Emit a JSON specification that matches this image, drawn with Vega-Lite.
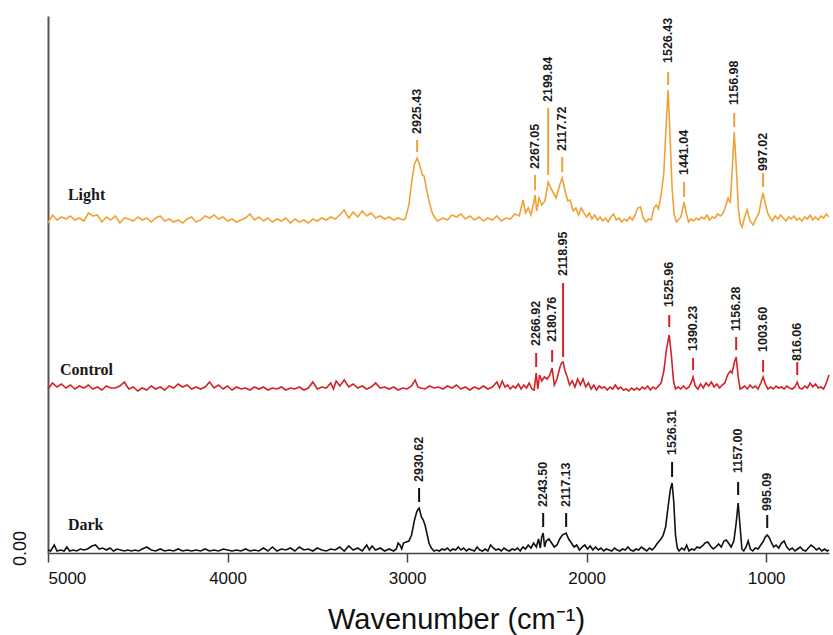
{
  "$schema": "https://vega.github.io/schema/vega-lite/v6.json",
  "width": 781,
  "height": 537,
  "autosize": {"type": "none"},
  "padding": {"left": 48, "top": 16, "right": 4, "bottom": 82},
  "background": "white",
  "config": {"view": {"stroke": null}},
  "datasets": {
    "light": [
      {"x":5000,"y":3.30},{"x":4975,"y":3.38},{"x":4950,"y":3.33},{"x":4925,"y":3.36},{"x":4900,"y":3.34},{"x":4875,"y":3.37},{"x":4850,"y":3.33},{"x":4825,"y":3.35},{"x":4800,"y":3.32},{"x":4775,"y":3.40},{"x":4750,"y":3.37},{"x":4725,"y":3.38},{"x":4700,"y":3.31},{"x":4675,"y":3.36},{"x":4650,"y":3.33},{"x":4625,"y":3.37},{"x":4600,"y":3.30},{"x":4575,"y":3.35},{"x":4550,"y":3.34},{"x":4525,"y":3.32},{"x":4500,"y":3.36},{"x":4475,"y":3.33},{"x":4450,"y":3.35},{"x":4425,"y":3.31},{"x":4400,"y":3.35},{"x":4375,"y":3.37},{"x":4350,"y":3.32},{"x":4325,"y":3.34},{"x":4300,"y":3.31},{"x":4275,"y":3.33},{"x":4250,"y":3.30},{"x":4225,"y":3.34},{"x":4200,"y":3.36},{"x":4175,"y":3.31},{"x":4150,"y":3.33},{"x":4125,"y":3.37},{"x":4100,"y":3.35},{"x":4075,"y":3.38},{"x":4050,"y":3.34},{"x":4025,"y":3.36},{"x":4000,"y":3.32},{"x":3975,"y":3.34},{"x":3950,"y":3.31},{"x":3925,"y":3.33},{"x":3900,"y":3.35},{"x":3875,"y":3.39},{"x":3850,"y":3.33},{"x":3825,"y":3.36},{"x":3800,"y":3.32},{"x":3775,"y":3.35},{"x":3750,"y":3.31},{"x":3725,"y":3.34},{"x":3700,"y":3.32},{"x":3675,"y":3.35},{"x":3650,"y":3.30},{"x":3625,"y":3.34},{"x":3600,"y":3.31},{"x":3575,"y":3.33},{"x":3550,"y":3.30},{"x":3525,"y":3.34},{"x":3500,"y":3.32},{"x":3475,"y":3.35},{"x":3450,"y":3.33},{"x":3425,"y":3.36},{"x":3400,"y":3.34},{"x":3375,"y":3.38},{"x":3350,"y":3.43},{"x":3325,"y":3.35},{"x":3300,"y":3.41},{"x":3275,"y":3.36},{"x":3250,"y":3.42},{"x":3225,"y":3.37},{"x":3200,"y":3.40},{"x":3175,"y":3.35},{"x":3150,"y":3.37},{"x":3125,"y":3.34},{"x":3100,"y":3.36},{"x":3075,"y":3.33},{"x":3050,"y":3.35},{"x":3025,"y":3.33},{"x":3010,"y":3.34},{"x":2990,"y":3.48},{"x":2975,"y":3.70},{"x":2960,"y":3.88},{"x":2944,"y":3.95},{"x":2930,"y":3.88},{"x":2915,"y":3.78},{"x":2905,"y":3.77},{"x":2890,"y":3.62},{"x":2875,"y":3.50},{"x":2860,"y":3.40},{"x":2845,"y":3.35},{"x":2830,"y":3.32},{"x":2800,"y":3.35},{"x":2775,"y":3.33},{"x":2750,"y":3.38},{"x":2725,"y":3.36},{"x":2700,"y":3.39},{"x":2675,"y":3.34},{"x":2650,"y":3.37},{"x":2625,"y":3.33},{"x":2600,"y":3.36},{"x":2575,"y":3.32},{"x":2550,"y":3.35},{"x":2525,"y":3.33},{"x":2500,"y":3.37},{"x":2475,"y":3.32},{"x":2450,"y":3.35},{"x":2425,"y":3.34},{"x":2400,"y":3.39},{"x":2375,"y":3.37},{"x":2354,"y":3.53},{"x":2340,"y":3.40},{"x":2325,"y":3.45},{"x":2310,"y":3.38},{"x":2295,"y":3.50},{"x":2287,"y":3.58},{"x":2278,"y":3.42},{"x":2265,"y":3.55},{"x":2250,"y":3.48},{"x":2232,"y":3.52},{"x":2214,"y":3.71},{"x":2200,"y":3.65},{"x":2185,"y":3.60},{"x":2170,"y":3.55},{"x":2150,"y":3.68},{"x":2136,"y":3.75},{"x":2120,"y":3.62},{"x":2105,"y":3.52},{"x":2092,"y":3.53},{"x":2075,"y":3.42},{"x":2060,"y":3.45},{"x":2045,"y":3.38},{"x":2030,"y":3.45},{"x":2015,"y":3.40},{"x":2000,"y":3.36},{"x":1985,"y":3.40},{"x":1970,"y":3.34},{"x":1955,"y":3.38},{"x":1940,"y":3.33},{"x":1925,"y":3.36},{"x":1910,"y":3.32},{"x":1895,"y":3.35},{"x":1880,"y":3.31},{"x":1865,"y":3.36},{"x":1850,"y":3.39},{"x":1835,"y":3.33},{"x":1820,"y":3.35},{"x":1805,"y":3.31},{"x":1790,"y":3.34},{"x":1775,"y":3.32},{"x":1760,"y":3.36},{"x":1745,"y":3.33},{"x":1730,"y":3.38},{"x":1715,"y":3.45},{"x":1700,"y":3.46},{"x":1685,"y":3.35},{"x":1670,"y":3.31},{"x":1655,"y":3.34},{"x":1640,"y":3.33},{"x":1625,"y":3.45},{"x":1612,"y":3.48},{"x":1600,"y":3.44},{"x":1585,"y":3.58},{"x":1570,"y":3.80},{"x":1558,"y":4.25},{"x":1546,"y":4.63},{"x":1535,"y":4.15},{"x":1524,"y":3.65},{"x":1512,"y":3.38},{"x":1500,"y":3.31},{"x":1490,"y":3.33},{"x":1475,"y":3.36},{"x":1457,"y":3.51},{"x":1445,"y":3.40},{"x":1432,"y":3.31},{"x":1420,"y":3.34},{"x":1405,"y":3.32},{"x":1390,"y":3.35},{"x":1375,"y":3.33},{"x":1360,"y":3.36},{"x":1345,"y":3.34},{"x":1330,"y":3.38},{"x":1315,"y":3.33},{"x":1300,"y":3.36},{"x":1285,"y":3.35},{"x":1270,"y":3.39},{"x":1255,"y":3.37},{"x":1240,"y":3.40},{"x":1225,"y":3.47},{"x":1212,"y":3.55},{"x":1200,"y":3.50},{"x":1190,"y":3.80},{"x":1178,"y":4.21},{"x":1166,"y":3.85},{"x":1155,"y":3.45},{"x":1145,"y":3.30},{"x":1134,"y":3.26},{"x":1120,"y":3.36},{"x":1106,"y":3.43},{"x":1090,"y":3.32},{"x":1072,"y":3.28},{"x":1058,"y":3.34},{"x":1040,"y":3.40},{"x":1028,"y":3.52},{"x":1017,"y":3.60},{"x":1005,"y":3.50},{"x":992,"y":3.40},{"x":980,"y":3.36},{"x":965,"y":3.32},{"x":950,"y":3.37},{"x":935,"y":3.34},{"x":920,"y":3.38},{"x":905,"y":3.35},{"x":890,"y":3.32},{"x":875,"y":3.36},{"x":860,"y":3.34},{"x":845,"y":3.37},{"x":830,"y":3.33},{"x":815,"y":3.35},{"x":800,"y":3.32},{"x":785,"y":3.36},{"x":770,"y":3.34},{"x":755,"y":3.38},{"x":740,"y":3.33},{"x":725,"y":3.36},{"x":710,"y":3.33},{"x":695,"y":3.37},{"x":680,"y":3.35},{"x":665,"y":3.39},{"x":650,"y":3.36}
    ],
    "control": [
      {"x":5000,"y":1.64},{"x":4975,"y":1.70},{"x":4950,"y":1.66},{"x":4925,"y":1.69},{"x":4900,"y":1.65},{"x":4875,"y":1.68},{"x":4850,"y":1.64},{"x":4825,"y":1.67},{"x":4800,"y":1.65},{"x":4775,"y":1.68},{"x":4750,"y":1.64},{"x":4725,"y":1.66},{"x":4700,"y":1.63},{"x":4675,"y":1.67},{"x":4650,"y":1.65},{"x":4625,"y":1.65},{"x":4600,"y":1.67},{"x":4575,"y":1.71},{"x":4550,"y":1.64},{"x":4525,"y":1.66},{"x":4500,"y":1.62},{"x":4475,"y":1.65},{"x":4450,"y":1.63},{"x":4425,"y":1.67},{"x":4400,"y":1.64},{"x":4375,"y":1.66},{"x":4350,"y":1.63},{"x":4325,"y":1.67},{"x":4300,"y":1.65},{"x":4275,"y":1.69},{"x":4250,"y":1.66},{"x":4225,"y":1.68},{"x":4200,"y":1.64},{"x":4175,"y":1.66},{"x":4150,"y":1.64},{"x":4125,"y":1.66},{"x":4100,"y":1.71},{"x":4075,"y":1.65},{"x":4050,"y":1.68},{"x":4025,"y":1.64},{"x":4000,"y":1.67},{"x":3975,"y":1.63},{"x":3950,"y":1.66},{"x":3925,"y":1.64},{"x":3900,"y":1.65},{"x":3875,"y":1.63},{"x":3850,"y":1.66},{"x":3825,"y":1.64},{"x":3800,"y":1.66},{"x":3775,"y":1.63},{"x":3750,"y":1.65},{"x":3725,"y":1.64},{"x":3700,"y":1.66},{"x":3675,"y":1.63},{"x":3650,"y":1.65},{"x":3625,"y":1.64},{"x":3600,"y":1.66},{"x":3575,"y":1.63},{"x":3550,"y":1.65},{"x":3525,"y":1.71},{"x":3500,"y":1.64},{"x":3475,"y":1.66},{"x":3450,"y":1.65},{"x":3425,"y":1.70},{"x":3410,"y":1.64},{"x":3395,"y":1.72},{"x":3375,"y":1.67},{"x":3350,"y":1.73},{"x":3325,"y":1.66},{"x":3300,"y":1.69},{"x":3275,"y":1.65},{"x":3250,"y":1.67},{"x":3225,"y":1.64},{"x":3200,"y":1.66},{"x":3175,"y":1.70},{"x":3150,"y":1.65},{"x":3125,"y":1.66},{"x":3100,"y":1.64},{"x":3075,"y":1.66},{"x":3050,"y":1.63},{"x":3025,"y":1.65},{"x":3000,"y":1.64},{"x":2975,"y":1.67},{"x":2955,"y":1.73},{"x":2940,"y":1.66},{"x":2925,"y":1.65},{"x":2900,"y":1.64},{"x":2875,"y":1.67},{"x":2850,"y":1.65},{"x":2825,"y":1.66},{"x":2800,"y":1.64},{"x":2775,"y":1.67},{"x":2750,"y":1.65},{"x":2725,"y":1.68},{"x":2700,"y":1.64},{"x":2675,"y":1.66},{"x":2650,"y":1.63},{"x":2625,"y":1.66},{"x":2600,"y":1.64},{"x":2575,"y":1.67},{"x":2550,"y":1.64},{"x":2525,"y":1.66},{"x":2500,"y":1.71},{"x":2485,"y":1.65},{"x":2470,"y":1.72},{"x":2455,"y":1.66},{"x":2440,"y":1.68},{"x":2425,"y":1.64},{"x":2410,"y":1.67},{"x":2395,"y":1.65},{"x":2380,"y":1.69},{"x":2365,"y":1.64},{"x":2350,"y":1.68},{"x":2335,"y":1.65},{"x":2320,"y":1.70},{"x":2305,"y":1.64},{"x":2292,"y":1.63},{"x":2281,"y":1.80},{"x":2272,"y":1.64},{"x":2262,"y":1.78},{"x":2250,"y":1.72},{"x":2235,"y":1.76},{"x":2220,"y":1.74},{"x":2205,"y":1.78},{"x":2192,"y":1.85},{"x":2180,"y":1.68},{"x":2165,"y":1.74},{"x":2150,"y":1.85},{"x":2140,"y":1.90},{"x":2131,"y":1.91},{"x":2120,"y":1.82},{"x":2108,"y":1.76},{"x":2095,"y":1.68},{"x":2080,"y":1.72},{"x":2065,"y":1.66},{"x":2050,"y":1.74},{"x":2035,"y":1.68},{"x":2020,"y":1.74},{"x":2005,"y":1.66},{"x":1990,"y":1.70},{"x":1975,"y":1.64},{"x":1960,"y":1.68},{"x":1945,"y":1.63},{"x":1930,"y":1.67},{"x":1915,"y":1.65},{"x":1900,"y":1.66},{"x":1885,"y":1.63},{"x":1870,"y":1.66},{"x":1855,"y":1.64},{"x":1840,"y":1.68},{"x":1825,"y":1.64},{"x":1810,"y":1.66},{"x":1795,"y":1.63},{"x":1780,"y":1.64},{"x":1765,"y":1.62},{"x":1750,"y":1.65},{"x":1735,"y":1.63},{"x":1720,"y":1.65},{"x":1705,"y":1.63},{"x":1690,"y":1.66},{"x":1675,"y":1.64},{"x":1660,"y":1.67},{"x":1645,"y":1.63},{"x":1630,"y":1.66},{"x":1615,"y":1.64},{"x":1600,"y":1.67},{"x":1585,"y":1.70},{"x":1570,"y":1.82},{"x":1555,"y":2.04},{"x":1540,"y":2.18},{"x":1528,"y":1.98},{"x":1516,"y":1.72},{"x":1505,"y":1.64},{"x":1490,"y":1.66},{"x":1475,"y":1.64},{"x":1460,"y":1.67},{"x":1445,"y":1.64},{"x":1430,"y":1.66},{"x":1418,"y":1.70},{"x":1407,"y":1.76},{"x":1395,"y":1.67},{"x":1380,"y":1.64},{"x":1365,"y":1.69},{"x":1350,"y":1.65},{"x":1335,"y":1.70},{"x":1320,"y":1.67},{"x":1305,"y":1.71},{"x":1290,"y":1.66},{"x":1275,"y":1.69},{"x":1260,"y":1.65},{"x":1245,"y":1.68},{"x":1230,"y":1.70},{"x":1215,"y":1.78},{"x":1200,"y":1.82},{"x":1190,"y":1.80},{"x":1178,"y":1.90},{"x":1167,"y":1.96},{"x":1155,"y":1.75},{"x":1145,"y":1.64},{"x":1134,"y":1.65},{"x":1120,"y":1.67},{"x":1105,"y":1.64},{"x":1090,"y":1.68},{"x":1075,"y":1.65},{"x":1060,"y":1.67},{"x":1045,"y":1.64},{"x":1030,"y":1.70},{"x":1017,"y":1.76},{"x":1005,"y":1.69},{"x":990,"y":1.64},{"x":975,"y":1.66},{"x":960,"y":1.64},{"x":945,"y":1.67},{"x":930,"y":1.65},{"x":915,"y":1.66},{"x":900,"y":1.64},{"x":885,"y":1.67},{"x":870,"y":1.65},{"x":855,"y":1.64},{"x":840,"y":1.66},{"x":827,"y":1.71},{"x":815,"y":1.65},{"x":800,"y":1.64},{"x":785,"y":1.67},{"x":770,"y":1.65},{"x":755,"y":1.70},{"x":740,"y":1.66},{"x":725,"y":1.69},{"x":710,"y":1.65},{"x":695,"y":1.66},{"x":680,"y":1.64},{"x":665,"y":1.70},{"x":650,"y":1.78}
    ],
    "dark": [
      {"x":5000,"y":0.03},{"x":4985,"y":0.02},{"x":4965,"y":0.08},{"x":4950,"y":0.02},{"x":4930,"y":0.03},{"x":4910,"y":0.02},{"x":4895,"y":0.06},{"x":4880,"y":0.02},{"x":4860,"y":0.03},{"x":4840,"y":0.02},{"x":4820,"y":0.04},{"x":4800,"y":0.03},{"x":4780,"y":0.04},{"x":4755,"y":0.07},{"x":4735,"y":0.08},{"x":4715,"y":0.04},{"x":4695,"y":0.05},{"x":4675,"y":0.03},{"x":4655,"y":0.05},{"x":4635,"y":0.02},{"x":4615,"y":0.04},{"x":4595,"y":0.03},{"x":4575,"y":0.02},{"x":4555,"y":0.03},{"x":4535,"y":0.02},{"x":4515,"y":0.03},{"x":4495,"y":0.02},{"x":4475,"y":0.04},{"x":4450,"y":0.06},{"x":4425,"y":0.03},{"x":4400,"y":0.02},{"x":4375,"y":0.04},{"x":4350,"y":0.02},{"x":4325,"y":0.03},{"x":4300,"y":0.02},{"x":4275,"y":0.04},{"x":4250,"y":0.02},{"x":4225,"y":0.03},{"x":4200,"y":0.02},{"x":4175,"y":0.03},{"x":4150,"y":0.02},{"x":4125,"y":0.04},{"x":4100,"y":0.02},{"x":4075,"y":0.03},{"x":4050,"y":0.02},{"x":4025,"y":0.04},{"x":4000,"y":0.03},{"x":3975,"y":0.02},{"x":3950,"y":0.03},{"x":3925,"y":0.02},{"x":3900,"y":0.04},{"x":3875,"y":0.02},{"x":3850,"y":0.03},{"x":3825,"y":0.02},{"x":3800,"y":0.05},{"x":3775,"y":0.02},{"x":3750,"y":0.06},{"x":3725,"y":0.02},{"x":3700,"y":0.04},{"x":3675,"y":0.03},{"x":3650,"y":0.05},{"x":3625,"y":0.02},{"x":3600,"y":0.06},{"x":3575,"y":0.03},{"x":3550,"y":0.04},{"x":3525,"y":0.02},{"x":3500,"y":0.05},{"x":3475,"y":0.03},{"x":3450,"y":0.02},{"x":3425,"y":0.04},{"x":3400,"y":0.03},{"x":3375,"y":0.06},{"x":3350,"y":0.02},{"x":3325,"y":0.07},{"x":3300,"y":0.03},{"x":3275,"y":0.05},{"x":3250,"y":0.02},{"x":3225,"y":0.08},{"x":3210,"y":0.03},{"x":3195,"y":0.07},{"x":3175,"y":0.03},{"x":3150,"y":0.05},{"x":3125,"y":0.02},{"x":3100,"y":0.04},{"x":3075,"y":0.02},{"x":3060,"y":0.04},{"x":3050,"y":0.10},{"x":3040,"y":0.08},{"x":3030,"y":0.04},{"x":3020,"y":0.10},{"x":3005,"y":0.11},{"x":2990,"y":0.12},{"x":2975,"y":0.18},{"x":2960,"y":0.32},{"x":2945,"y":0.42},{"x":2933,"y":0.45},{"x":2920,"y":0.36},{"x":2910,"y":0.33},{"x":2900,"y":0.28},{"x":2890,"y":0.20},{"x":2878,"y":0.10},{"x":2865,"y":0.05},{"x":2850,"y":0.02},{"x":2835,"y":0.03},{"x":2820,"y":0.02},{"x":2805,"y":0.04},{"x":2790,"y":0.03},{"x":2775,"y":0.05},{"x":2760,"y":0.02},{"x":2745,"y":0.04},{"x":2730,"y":0.03},{"x":2715,"y":0.06},{"x":2700,"y":0.03},{"x":2685,"y":0.05},{"x":2670,"y":0.02},{"x":2655,"y":0.04},{"x":2640,"y":0.03},{"x":2625,"y":0.02},{"x":2610,"y":0.06},{"x":2595,"y":0.03},{"x":2580,"y":0.02},{"x":2565,"y":0.04},{"x":2550,"y":0.02},{"x":2535,"y":0.08},{"x":2520,"y":0.05},{"x":2505,"y":0.03},{"x":2490,"y":0.04},{"x":2475,"y":0.02},{"x":2460,"y":0.05},{"x":2445,"y":0.03},{"x":2430,"y":0.02},{"x":2415,"y":0.04},{"x":2400,"y":0.03},{"x":2385,"y":0.05},{"x":2370,"y":0.02},{"x":2355,"y":0.06},{"x":2340,"y":0.04},{"x":2325,"y":0.08},{"x":2310,"y":0.05},{"x":2295,"y":0.10},{"x":2280,"y":0.06},{"x":2268,"y":0.14},{"x":2258,"y":0.05},{"x":2250,"y":0.16},{"x":2242,"y":0.20},{"x":2234,"y":0.06},{"x":2225,"y":0.12},{"x":2210,"y":0.14},{"x":2195,"y":0.10},{"x":2180,"y":0.06},{"x":2165,"y":0.08},{"x":2150,"y":0.14},{"x":2135,"y":0.18},{"x":2114,"y":0.20},{"x":2100,"y":0.14},{"x":2085,"y":0.10},{"x":2070,"y":0.06},{"x":2055,"y":0.08},{"x":2040,"y":0.03},{"x":2025,"y":0.06},{"x":2010,"y":0.08},{"x":1995,"y":0.04},{"x":1980,"y":0.07},{"x":1965,"y":0.03},{"x":1950,"y":0.06},{"x":1935,"y":0.03},{"x":1920,"y":0.05},{"x":1905,"y":0.02},{"x":1890,"y":0.04},{"x":1875,"y":0.03},{"x":1860,"y":0.02},{"x":1845,"y":0.05},{"x":1830,"y":0.03},{"x":1815,"y":0.02},{"x":1800,"y":0.04},{"x":1785,"y":0.03},{"x":1770,"y":0.06},{"x":1755,"y":0.03},{"x":1740,"y":0.02},{"x":1725,"y":0.04},{"x":1710,"y":0.03},{"x":1695,"y":0.06},{"x":1680,"y":0.04},{"x":1665,"y":0.02},{"x":1650,"y":0.05},{"x":1635,"y":0.03},{"x":1620,"y":0.06},{"x":1605,"y":0.10},{"x":1590,"y":0.13},{"x":1575,"y":0.17},{"x":1560,"y":0.26},{"x":1545,"y":0.48},{"x":1533,"y":0.64},{"x":1524,"y":0.70},{"x":1515,"y":0.52},{"x":1505,"y":0.18},{"x":1495,"y":0.05},{"x":1485,"y":0.02},{"x":1470,"y":0.05},{"x":1455,"y":0.03},{"x":1443,"y":0.08},{"x":1430,"y":0.02},{"x":1415,"y":0.04},{"x":1400,"y":0.03},{"x":1385,"y":0.06},{"x":1370,"y":0.05},{"x":1355,"y":0.07},{"x":1340,"y":0.10},{"x":1325,"y":0.11},{"x":1310,"y":0.07},{"x":1295,"y":0.04},{"x":1280,"y":0.06},{"x":1265,"y":0.09},{"x":1250,"y":0.06},{"x":1235,"y":0.12},{"x":1222,"y":0.13},{"x":1210,"y":0.10},{"x":1195,"y":0.06},{"x":1180,"y":0.12},{"x":1167,"y":0.30},{"x":1156,"y":0.50},{"x":1146,"y":0.28},{"x":1135,"y":0.04},{"x":1125,"y":0.02},{"x":1112,"y":0.06},{"x":1100,"y":0.12},{"x":1088,"y":0.04},{"x":1075,"y":0.02},{"x":1060,"y":0.05},{"x":1045,"y":0.04},{"x":1030,"y":0.08},{"x":1015,"y":0.12},{"x":1005,"y":0.16},{"x":994,"y":0.18},{"x":982,"y":0.15},{"x":970,"y":0.10},{"x":958,"y":0.06},{"x":945,"y":0.08},{"x":930,"y":0.05},{"x":915,"y":0.10},{"x":900,"y":0.12},{"x":885,"y":0.06},{"x":870,"y":0.03},{"x":855,"y":0.05},{"x":840,"y":0.02},{"x":825,"y":0.04},{"x":810,"y":0.06},{"x":795,"y":0.03},{"x":780,"y":0.02},{"x":765,"y":0.05},{"x":750,"y":0.08},{"x":735,"y":0.06},{"x":720,"y":0.03},{"x":705,"y":0.05},{"x":690,"y":0.02},{"x":675,"y":0.04},{"x":660,"y":0.02},{"x":650,"y":0.03}
    ],
    "ann": [
      {"s":"Light","label":"2925.43","pos":2944,"y1":4.01,"y2":4.13,"yt":4.19},
      {"s":"Light","label":"2267.05","pos":2287,"y1":3.63,"y2":3.78,"yt":3.84},
      {"s":"Light","label":"2199.84","pos":2214,"y1":3.78,"y2":4.45,"yt":4.51},
      {"s":"Light","label":"2117.72","pos":2136,"y1":3.81,"y2":3.96,"yt":4.02},
      {"s":"Light","label":"1526.43","pos":1546,"y1":4.68,"y2":4.81,"yt":4.90},
      {"s":"Light","label":"1441.04","pos":1457,"y1":3.56,"y2":3.71,"yt":3.78},
      {"s":"Light","label":"1156.98","pos":1178,"y1":4.26,"y2":4.40,"yt":4.48},
      {"s":"Light","label":"997.02","pos":1017,"y1":3.66,"y2":3.80,"yt":3.82},
      {"s":"Control","label":"2266.92","pos":2281,"y1":1.86,"y2":2.00,"yt":2.07},
      {"s":"Control","label":"2180.76","pos":2192,"y1":1.91,"y2":2.03,"yt":2.11},
      {"s":"Control","label":"2118.95","pos":2131,"y1":1.96,"y2":2.70,"yt":2.77},
      {"s":"Control","label":"1525.96","pos":1540,"y1":2.26,"y2":2.38,"yt":2.46},
      {"s":"Control","label":"1390.23","pos":1407,"y1":1.83,"y2":1.95,"yt":2.02},
      {"s":"Control","label":"1156.28","pos":1167,"y1":2.03,"y2":2.16,"yt":2.22},
      {"s":"Control","label":"1003.60","pos":1017,"y1":1.81,"y2":1.93,"yt":2.01},
      {"s":"Control","label":"816.06","pos":827,"y1":1.78,"y2":1.91,"yt":1.92},
      {"s":"Dark","label":"2930.62","pos":2933,"y1":0.51,"y2":0.65,"yt":0.71},
      {"s":"Dark","label":"2243.50","pos":2242,"y1":0.26,"y2":0.40,"yt":0.46},
      {"s":"Dark","label":"2117.13","pos":2114,"y1":0.26,"y2":0.40,"yt":0.46},
      {"s":"Dark","label":"1526.31","pos":1524,"y1":0.76,"y2":0.91,"yt":0.98},
      {"s":"Dark","label":"1157.00","pos":1156,"y1":0.58,"y2":0.71,"yt":0.80},
      {"s":"Dark","label":"995.09","pos":994,"y1":0.25,"y2":0.38,"yt":0.42}
    ],
    "names": [
      {"name":"Light","x":4889,"y":3.58},
      {"name":"Control","x":4933,"y":1.83},
      {"name":"Dark","x":4889,"y":0.28}
    ]
  },
  "encoding": {
    "x": {
      "field": "x", "type": "quantitative",
      "scale": {"domain": [650, 5000], "reverse": true, "nice": false, "zero": false},
      "axis": {
        "values": [5000, 4000, 3000, 2000, 1000], "format": "d", "grid": false,
        "labelFont": "Liberation Sans", "labelFontSize": 17, "labelColor": "#111",
        "labelPadding": 8, "tickSize": 9, "tickWidth": 1.5, "tickColor": "#444",
        "domainColor": "#444", "domainWidth": 1.5,
        "title": "Wavenumber (cm⁻¹)", "titleFont": "Liberation Sans", "titleFontSize": 29,
        "titleFontWeight": "normal", "titleColor": "#111", "titleX": 408, "titleY": 75,
        "titleAlign": "center", "titleBaseline": "alphabetic"
      }
    },
    "y": {
      "field": "y", "type": "quantitative",
      "scale": {"domain": [0, 5.37], "nice": false, "zero": false},
      "axis": {
        "values": [0], "format": ".2f", "grid": false, "ticks": false, "tickSize": 0,
        "labelAngle": -90, "labelAlign": "center", "labelBaseline": "bottom",
        "labelOffset": -5, "labelPadding": 19,
        "labelFont": "Liberation Sans", "labelFontSize": 18, "labelColor": "#111",
        "domainColor": "#555", "domainWidth": 2, "title": null
      }
    }
  },
  "layer": [
    {"data": {"name": "light"}, "mark": {"type": "line", "color": "#F0A238", "strokeWidth": 1.6}},
    {"data": {"name": "control"}, "mark": {"type": "line", "color": "#D42128", "strokeWidth": 1.6}},
    {"data": {"name": "dark"}, "mark": {"type": "line", "color": "#111111", "strokeWidth": 1.6}},
    {
      "data": {"name": "ann"},
      "mark": {"type": "rule", "strokeWidth": 2},
      "encoding": {
        "x": {"field": "pos", "type": "quantitative"},
        "y": {"field": "y1", "type": "quantitative"},
        "y2": {"field": "y2"},
        "color": {"field": "s", "type": "nominal", "scale": {"domain": ["Light", "Control", "Dark"], "range": ["#F0A238", "#D42128", "#111111"]}, "legend": null}
      }
    },
    {
      "data": {"name": "ann"},
      "mark": {"type": "text", "angle": 270, "align": "left", "baseline": "middle", "font": "Liberation Sans", "fontSize": 12.5, "fontWeight": "bold", "color": "#1a1a1a"},
      "encoding": {
        "x": {"field": "pos", "type": "quantitative"},
        "y": {"field": "yt", "type": "quantitative"},
        "text": {"field": "label"}
      }
    },
    {
      "data": {"name": "names"},
      "mark": {"type": "text", "align": "left", "baseline": "middle", "font": "Liberation Serif", "fontWeight": "bold", "fontSize": 16, "color": "#1a1a1a"},
      "encoding": {
        "x": {"field": "x", "type": "quantitative"},
        "y": {"field": "y", "type": "quantitative"},
        "text": {"field": "name"}
      }
    }
  ]
}
